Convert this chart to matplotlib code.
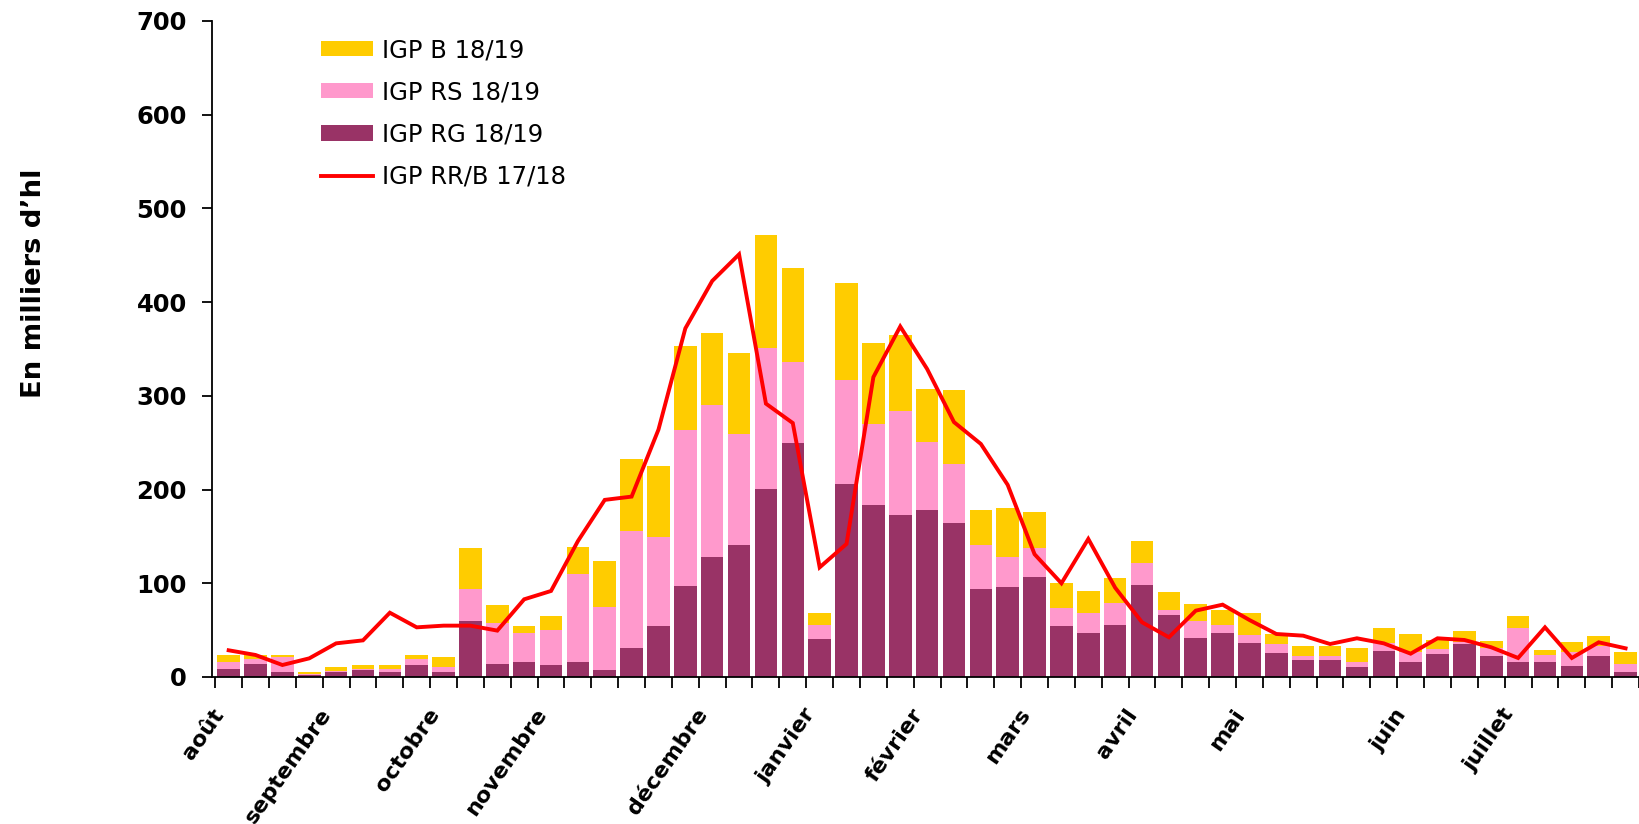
import matplotlib
matplotlib.use('Agg')
import matplotlib.pyplot as plt
import numpy as np
from matplotlib.ticker import MultipleLocator

plt.rcParams['font.family'] = ['DejaVu Sans']

# ---- data (milliers d'hl, weekly, Aug 2018 -> Jul 2019) ----
weeks = np.arange(53)
igp_rg = [8.5, 13.9, 5.3, 2.2, 5.5, 7.5, 5.3, 12.8, 5.3, 59.8,
          13.9, 15.9, 13.2, 16.0, 7.8, 31.0, 54.4, 97.1, 128.1, 140.9,
          200.6, 249.7, 40.6, 206.0, 183.9, 172.9, 178.2, 164.4, 93.9, 96.0,
          106.7, 54.4, 47.0, 55.5, 98.5, 66.2, 41.6, 47.0, 36.3, 25.6,
          18.1, 18.1, 10.7, 27.7, 16.0, 24.5, 35.2, 22.4, 16.0, 16.0,
          11.7, 22.4, 5.3]
igp_rs = [7.9, 5.0, 16.4, 1.4, 0.5, 0.7, 2.9, 6.1, 5.4, 34.1,
          43.4, 31.1, 37.3, 94.0, 66.9, 124.8, 95.0, 166.9, 162.2, 118.8,
          150.8, 86.8, 14.9, 111.3, 86.4, 111.0, 72.9, 63.2, 47.0, 32.1,
          31.3, 19.6, 21.3, 23.5, 23.2, 5.6, 18.2, 8.5, 8.5, 10.0,
          4.3, 4.3, 5.3, 8.2, 10.7, 5.4, 2.2, 8.5, 36.3, 7.5,
          15.0, 10.7, 8.6]
igp_b = [7.1, 4.6, 1.8, 1.7, 4.7, 4.6, 4.6, 4.6, 11.0, 43.8,
         19.5, 7.4, 14.6, 28.7, 49.1, 76.9, 75.8, 89.3, 76.8, 86.1,
         120.3, 100.0, 12.8, 103.2, 86.2, 81.1, 56.3, 78.7, 37.3, 52.3,
         38.1, 26.3, 23.5, 26.7, 23.4, 18.9, 18.1, 16.0, 23.5, 10.3,
         10.7, 10.7, 14.9, 16.4, 19.2, 9.6, 11.7, 7.5, 12.8, 5.3,
         10.7, 10.7, 12.8]
igp_rrb_1718 = [28.5, 23.5, 12.8, 19.9, 35.9, 39.1, 68.6, 53.0, 54.8, 54.8,
                49.5, 82.9, 91.8, 145.0, 189.0, 192.5, 264.0, 372.0, 422.6, 451.0,
                291.7, 271.0, 117.0, 142.0, 320.0, 374.0, 328.7, 272.0, 248.7, 205.0,
                131.0, 100.0, 147.3, 95.3, 58.4, 42.4, 70.8, 77.2, 60.8, 45.9,
                44.1, 35.2, 41.3, 35.9, 24.9, 41.3, 39.5, 31.7, 20.3, 53.0,
                20.3, 37.0, 30.6]
month_labels = ['août', 'septembre', 'octobre', 'novembre', 'décembre', 'janvier',
                'février', 'mars', 'avril', 'mai', 'juin', 'juillet']
month_weeks = [0, 4, 8, 12, 18, 22, 26, 30, 34, 38, 44, 48]
series_names = ['IGP B 18/19', 'IGP RS 18/19', 'IGP RG 18/19', 'IGP RR/B 17/18']

W, H = 1639, 824
fig = plt.figure(figsize=(W / 100, H / 100), dpi=100)
ax = fig.add_axes([212 / W, (H - 677) / H, 1 - 212 / W, (677 - 21) / H])

rg = np.array(igp_rg)
rs = np.array(igp_rs)
bw = 0.84
h_rg = ax.bar(weeks, rg, width=bw, color='#993366', zorder=2)
h_rs = ax.bar(weeks, rs, bottom=rg, width=bw, color='#FF99CC', zorder=2)
h_b = ax.bar(weeks, igp_b, bottom=rg + rs, width=bw, color='#FFCC00', zorder=2)
h_l, = ax.plot(weeks, igp_rrb_1718, color='#FF0000', lw=2.8, zorder=3,
               solid_joinstyle='miter')

ax.set_xlim(-0.5, -0.5 + (W - 212) / 27.19)
ax.set_ylim(0, 700)
ax.yaxis.set_major_locator(MultipleLocator(100))
ax.tick_params(axis='y', direction='out', length=7, width=1.3, pad=11, labelsize=17.5)
for lab in ax.get_yticklabels():
    lab.set_fontweight('bold')

ax.set_xticks(np.array(month_weeks) - 0.62)
ax.set_xticklabels(month_labels, rotation=55, ha='right', va='top',
                   rotation_mode='anchor', fontsize=16, fontweight='bold')
ax.set_xticks(np.arange(-0.5, 53, 1), minor=True)
ax.tick_params(axis='x', which='major', length=0, pad=20)
ax.tick_params(axis='x', which='minor', length=8, width=1.3, direction='out')

for s in ['top', 'right']:
    ax.spines[s].set_visible(False)
for s in ['left', 'bottom']:
    ax.spines[s].set_linewidth(1.3)

fig.text(34 / W, 1 - 283 / H, 'En milliers d’hl', rotation=90, ha='center',
         va='center', fontsize=19.7, fontweight='bold')

ax.legend([h_b, h_rs, h_rg, h_l], series_names, loc='upper left',
          bbox_to_anchor=(321 / W, 1 - 38 / H), bbox_transform=fig.transFigure,
          frameon=False, fontsize=17.5, handlelength=2.14, handleheight=0.6,
          handletextpad=0.36, labelspacing=0.75, borderpad=0, borderaxespad=0)

fig.savefig('out.png', dpi=100)
